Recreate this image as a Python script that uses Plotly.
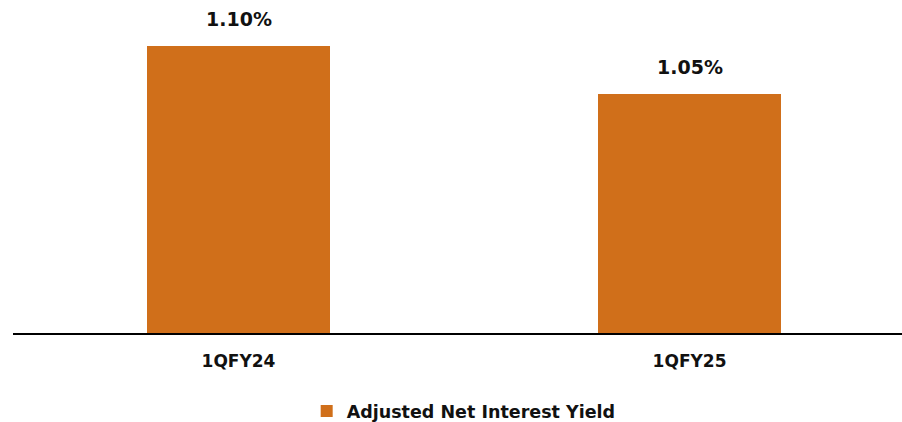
import plotly.graph_objects as go

categories = ["1QFY24", "1QFY25"]
values = [1.10, 1.05]
labels = ["1.10%", "1.05%"]
series_name = "Adjusted Net Interest Yield"

color = "#D06F1A"
font_family = "DejaVu Sans"

fig = go.Figure()
fig.add_trace(go.Bar(
    x=categories,
    y=values,
    name="<b>%s</b>" % series_name,
    marker=dict(color=color, line=dict(width=0)),
    width=0.406,
    showlegend=True,
))

for c, v, t in zip(categories, values, labels):
    fig.add_annotation(x=c, y=v, text="<b>%s</b>" % t, showarrow=False,
                       yanchor="bottom", yshift=14,
                       font=dict(family=font_family, size=19, color="#111111"))

fig.update_layout(
    width=902, height=422,
    margin=dict(l=13, r=0, t=27, b=89, autoexpand=False),
    paper_bgcolor="white", plot_bgcolor="white",
    bargap=0,
    xaxis=dict(range=[-0.5, 1.471], showline=True, linecolor="black", linewidth=2,
               ticks="", showgrid=False, automargin=False,
               tickfont=dict(family=font_family, size=17, color="#111111"),
               tickvals=categories,
               ticktext=["<b>%s</b>" % c for c in categories],
               ticklabelstandoff=12),
    yaxis=dict(range=[0.8, 1.12], visible=False, showgrid=False, automargin=False),
    legend=dict(orientation="h", xref="container", yref="container",
                x=0.34, xanchor="left", y=0.026, yanchor="middle",
                font=dict(family=font_family, size=17.5, color="#111111"),
                bgcolor="rgba(0,0,0,0)"),
    font=dict(family=font_family),
)

fig.write_html("out.html", config={"displayModeBar": False},
               post_script="document.body.style.margin='0';document.body.style.overflow='hidden';")
